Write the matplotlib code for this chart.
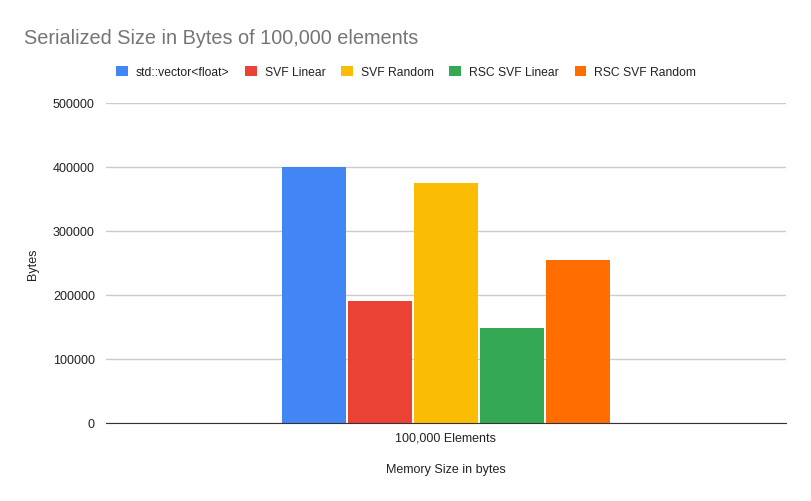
import matplotlib
matplotlib.use("Agg")
import matplotlib.pyplot as plt
import numpy as np

plt.rcParams['font.family'] = ['Liberation Sans', 'DejaVu Sans']

categories = ["100,000 Elements"]
series_names = ["std::vector<float>", "SVF Linear", "SVF Random", "RSC SVF Linear", "RSC SVF Random"]
series_values = [[400000], [190000], [375000], [148000], [255000]]
colors = ["#4285f4", "#ea4335", "#fbbc04", "#34a853", "#ff6d01"]
yticks = [0, 100000, 200000, 300000, 400000, 500000]

fig = plt.figure(figsize=(8.12, 5.02), dpi=100)
ax = fig.add_axes([106/812, 1-424/502, 680/812, 320/502])

x = np.arange(len(categories))
step = 66/680
width = 64/680
n = len(series_names)
handles = []
for i, (name, vals, c) in enumerate(zip(series_names, series_values, colors)):
    off = (i - (n-1)/2) * step
    b = ax.bar(x + off, vals, width=width, color=c, label=name, zorder=3)
    handles.append(b)

ax.set_xlim(-0.5, 0.5)
ax.set_ylim(0, 500000)
ax.set_yticks(yticks)
ax.set_yticklabels([str(v) for v in yticks])
ax.set_xticks(x)
ax.set_xticklabels(categories)
ax.grid(axis='y', color='#cccccc', linewidth=1, zorder=0)
for s in ['top', 'right', 'left']:
    ax.spines[s].set_visible(False)
ax.spines['bottom'].set_color('#333333')
ax.spines['bottom'].set_zorder(4)
ax.tick_params(axis='both', length=0, labelsize=9, labelcolor='#222222', pad=8)
ax.tick_params(axis='x', pad=6)

ax.set_xlabel("Memory Size in bytes", fontsize=9, color='#222222', labelpad=14)
ax.set_ylabel("Bytes", fontsize=9, color='#222222', labelpad=10)

fig.text(24/812, 1-38/502, "Serialized Size in Bytes of 100,000 elements",
         fontsize=14.3, color='#757575', va='center', ha='left')

fig.legend(handles=handles, labels=series_names, loc='center', bbox_to_anchor=(406/812, 1-73/502),
           ncol=5, frameon=False, fontsize=8.7, handlelength=0.98, handleheight=0.98,
           columnspacing=1.3, handletextpad=0.65, labelcolor='#222222')

fig.savefig("out.png", dpi=100, facecolor='white')
